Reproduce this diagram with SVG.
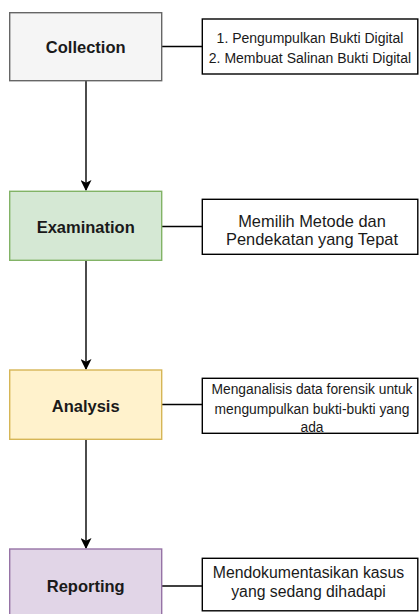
<svg xmlns="http://www.w3.org/2000/svg" width="419" height="614" viewBox="0 0 419 614">
  <style>
    .stage { stroke-width: 1.4; }
    .note { fill: #ffffff; stroke: #000000; stroke-width: 1.4; }
    .label { font-family: "Liberation Sans", Arial, sans-serif; font-size: 16.5px; font-weight: bold; fill: #1a1a1a; text-anchor: middle; }
    .desc { font-family: "Liberation Sans", Arial, sans-serif; fill: #1a1a1a; text-anchor: middle; }
    .link { fill: none; stroke: #000000; stroke-width: 1.4; }
  </style>
  <defs>
    <marker id="arrow" viewBox="0 0 10 10" refX="9" refY="5" markerWidth="11" markerHeight="11" markerUnits="userSpaceOnUse" orient="auto">
      <path d="M0,0 L10,5 L0,10 L2.5,5 Z" fill="#000000"/>
    </marker>
  </defs>

  <rect width="419" height="614" fill="#ffffff"/>

  <!-- connectors -->
  <g id="connectors">
    <path class="link" d="M86,81 L86,190" marker-end="url(#arrow)"/>
    <path class="link" d="M86,261 L86,369" marker-end="url(#arrow)"/>
    <path class="link" d="M86,440 L86,548" marker-end="url(#arrow)"/>
    <path class="link" d="M162,46.5 L202,46.5"/>
    <path class="link" d="M162,226.5 L202,226.5"/>
    <path class="link" d="M162,404.5 L202,404.5"/>
    <path class="link" d="M162,586 L202,586"/>
  </g>

  <!-- stages -->
  <g id="collection">
    <rect class="stage" x="9.7" y="12.7" width="152" height="68" fill="#f5f5f5" stroke="#666666"/>
    <text class="label" x="85.7" y="53">Collection</text>
  </g>
  <g id="examination">
    <rect class="stage" x="9.7" y="191.3" width="152" height="69" fill="#d5e8d4" stroke="#82b366"/>
    <text class="label" x="85.7" y="233">Examination</text>
  </g>
  <g id="analysis">
    <rect class="stage" x="9.7" y="370" width="152" height="69.3" fill="#fff2cc" stroke="#d6b656"/>
    <text class="label" x="85.7" y="412">Analysis</text>
  </g>
  <g id="reporting">
    <rect class="stage" x="9.7" y="549" width="152" height="80" fill="#e1d5e7" stroke="#9673a6"/>
    <text class="label" x="85.7" y="592">Reporting</text>
  </g>

  <!-- descriptions -->
  <g id="collection-note">
    <rect class="note" x="202.3" y="19" width="215.5" height="55"/>
    <text class="desc" x="310" y="43.3" font-size="14">1. Pengumpulkan Bukti Digital</text>
    <text class="desc" x="310" y="63.3" font-size="14">2. Membuat Salinan Bukti Digital</text>
  </g>
  <g id="examination-note">
    <rect class="note" x="202.3" y="199.3" width="215.5" height="55"/>
    <text class="desc" x="312" y="226.5" font-size="16.4">Memilih Metode dan</text>
    <text class="desc" x="312" y="244.5" font-size="16.4">Pendekatan yang Tepat</text>
  </g>
  <g id="analysis-note">
    <rect class="note" x="202.3" y="378.3" width="215.5" height="55"/>
    <text class="desc" x="312" y="394" font-size="13.8">Menganalisis data forensik untuk</text>
    <text class="desc" x="312" y="413.5" font-size="13.8">mengumpulkan bukti-bukti yang</text>
    <text class="desc" x="312" y="432" font-size="13.8">ada</text>
  </g>
  <g id="reporting-note">
    <rect class="note" x="202.3" y="558.3" width="215.5" height="52.5"/>
    <text class="desc" x="308.5" y="578.3" font-size="15.8">Mendokumentasikan kasus</text>
    <text class="desc" x="308.5" y="596.5" font-size="15.8">yang sedang dihadapi</text>
  </g>
</svg>
